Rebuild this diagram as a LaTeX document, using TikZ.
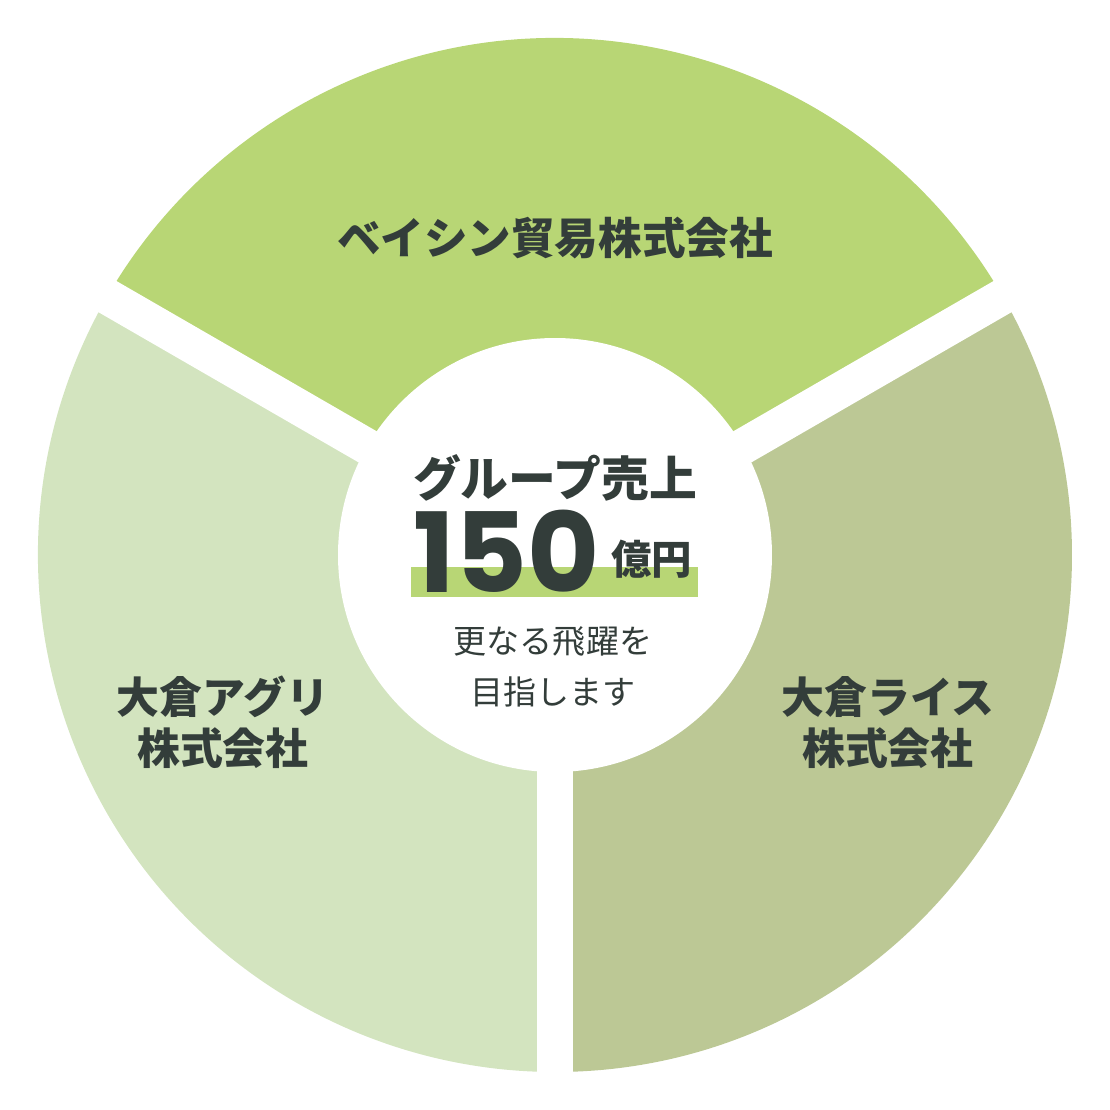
\documentclass[tikz,border=0pt]{standalone}
\usepackage{fontspec}
\newfontfamily\cjk{Noto Sans CJK JP}
\newfontfamily\numfont{Poppins}
\definecolor{topgreen}{RGB}{184,214,117}
\definecolor{leftgreen}{RGB}{211,228,191}
\definecolor{rightgreen}{RGB}{188,200,149}
\definecolor{inktext}{RGB}{51,61,58}
\tikzset{
  company/.style={inner sep=0pt, align=center, text=inktext, font=\cjk\bfseries\fontsize{12.2}{14.5}\selectfont},
  gap/.style={white, line width=0.36cm}
}
\begin{document}
\begin{tikzpicture}
\useasboundingbox (0,0) rectangle (11.1,11.1);
% three sectors
\fill[topgreen] (5.55,5.55) -- ++(30:5.17) arc[start angle=30, end angle=150, radius=5.17] -- cycle;
\fill[leftgreen] (5.55,5.55) -- ++(150:5.17) arc[start angle=150, end angle=270, radius=5.17] -- cycle;
\fill[rightgreen] (5.55,5.55) -- ++(-90:5.17) arc[start angle=-90, end angle=30, radius=5.17] -- cycle;
\coordinate (c) at (5.55,5.55);
\draw[gap] (c) -- ++(30:5.3);
\draw[gap] (c) -- ++(150:5.3);
\draw[gap] (c) -- ++(270:5.3);
\fill[white] (c) circle [radius=2.17];
% centre
\fill[topgreen] (4.11,5.13) rectangle (6.98,5.43);
\node[company, font=\cjk\bfseries\fontsize{13.6}{16}\selectfont] (title) at (5.55,6.32) {グループ売上};
\node[inner sep=0pt, anchor=base, text depth=0pt, text=inktext, font=\numfont\bfseries\fontsize{31.5}{34}\selectfont] (amount) at (5.065,5.18) {150};
\node[company, font=\cjk\bfseries\fontsize{11.5}{14}\selectfont] (unit) at (6.52,5.51) {億円};
\node[inner sep=0pt, align=center, text=inktext, font=\cjk\fontsize{9.4}{14.5}\selectfont] (goal) at (5.53,4.435) {更なる飛躍を\\目指します};
% companies
\node[company, font=\cjk\bfseries\fontsize{12.4}{14.5}\selectfont] (basin) at (5.55,8.72) {ベイシン貿易株式会社};
\node[company] (agri) at (2.23,3.875) {大倉アグリ\\株式会社};
\node[company] (rice) at (8.88,3.875) {大倉ライス\\株式会社};
\end{tikzpicture}
\end{document}
